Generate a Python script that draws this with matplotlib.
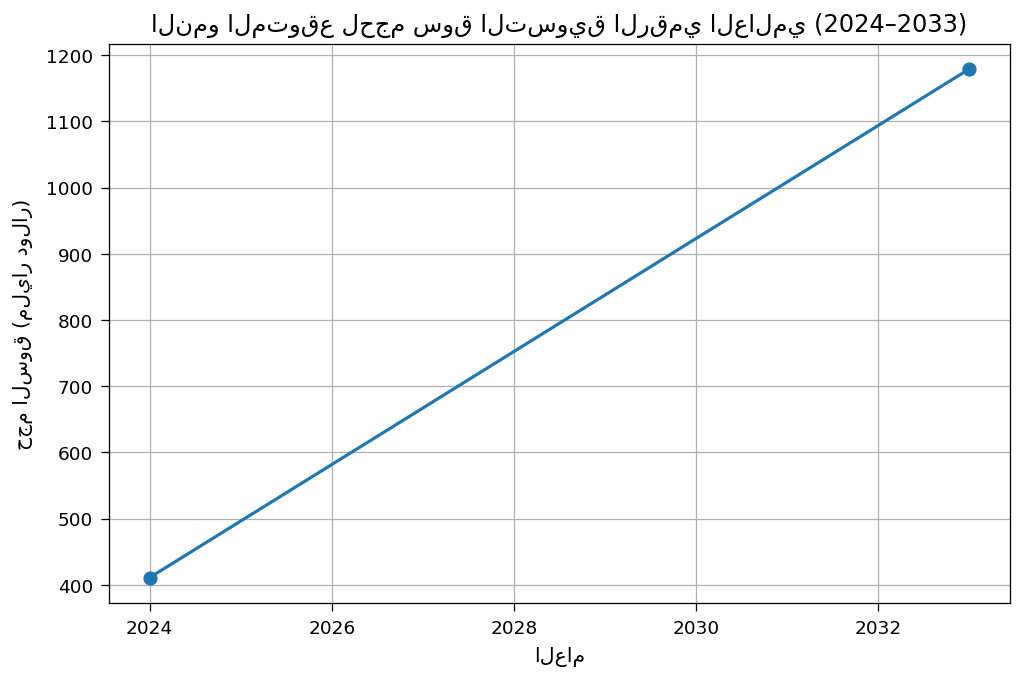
import matplotlib
matplotlib.use("Agg")
import matplotlib.pyplot as plt

# السنوات وحجم السوق (مليار دولار)
السنوات = [2024, 2033]
حجم_السوق = [411, 1179]

fig, ax = plt.subplots(figsize=(9, 6), dpi=113.8)
ax.plot(السنوات, حجم_السوق, marker='o', linewidth=2, markersize=8, color='#1f77b4')
ax.set_title("النمو المتوقع لحجم سوق التسويق الرقمي العالمي (2024–2033)", fontsize=15.3, pad=8)
ax.set_xlabel("العام", fontsize=13, labelpad=6)
ax.set_ylabel("حجم السوق (مليار دولار)", fontsize=12.8, labelpad=8)
ax.tick_params(labelsize=11.7, length=5, pad=5)
ax.grid(True)
fig.subplots_adjust(left=0.1062, right=0.986, top=0.9347, bottom=0.1158)
fig.savefig("out.png", dpi=113.8)
